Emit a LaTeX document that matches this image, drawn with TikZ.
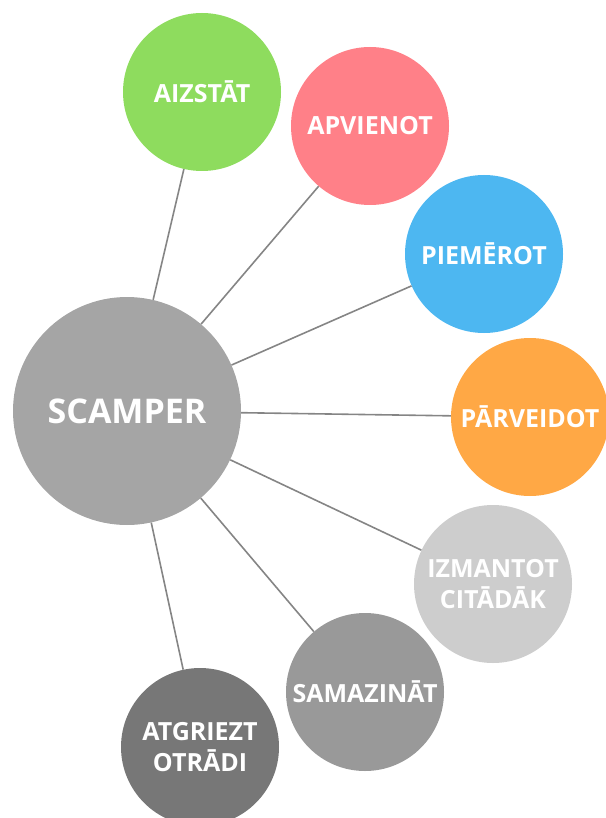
\documentclass[tikz,border=0pt]{standalone}
\usepackage{fontspec}
\setmainfont{Open Sans}
\usetikzlibrary{positioning}

\definecolor{hubgray}{HTML}{A5A5A5}
\definecolor{sgreen}{HTML}{8EDC5E}
\definecolor{cpink}{HTML}{FF8088}
\definecolor{ablue}{HTML}{4DB7F1}
\definecolor{morange}{HTML}{FFA845}
\definecolor{plight}{HTML}{CDCDCD}
\definecolor{emid}{HTML}{999999}
\definecolor{rdark}{HTML}{777777}
\definecolor{linkgray}{HTML}{858585}

\tikzset{
  idea/.style={circle, inner sep=0pt, minimum size=158pt, align=center,
    text=white, font=\bfseries\fontsize{25}{31}\selectfont},
  hub/.style={circle, inner sep=0pt, minimum size=228pt, fill=hubgray,
    text=white, font=\bfseries\fontsize{34}{40}\selectfont},
  link/.style={line width=1.6pt, color=linkgray}
}

\begin{document}
\begin{tikzpicture}[x=1pt, y=-1pt]
			%%%%% START %%%%%
			
			\useasboundingbox (0, 0) rectangle (605, 818);
			
			\node[hub] (scamper) at (127, 411) {SCAMPER};
			
			\node[idea, fill=sgreen] (aizstat) at (202, 92) {AIZSTĀT};
			\node[idea, fill=cpink] (apvienot) at (370, 126) {APVIENOT};
			\node[idea, fill=ablue] (piemerot) at (484, 254) {PIEMĒROT};
			\node[idea, fill=morange] (parveidot) at (530, 417) {PĀRVEIDOT};
			\node[idea, fill=plight] (izmantot) at (493, 584) {IZMANTOT\\CITĀDĀK};
			\node[idea, fill=emid] (samazinat) at (365, 692) {SAMAZINĀT};
			\node[idea, fill=rdark] (atgriezt) at (200, 747) {ATGRIEZT\\OTRĀDI};
			
			\draw[link] (scamper) -- (aizstat);
			\draw[link] (scamper) -- (apvienot);
			\draw[link] (scamper) -- (piemerot);
			\draw[link] (scamper) -- (parveidot);
			\draw[link] (scamper) -- (izmantot);
			\draw[link] (scamper) -- (samazinat);
			\draw[link] (scamper) -- (atgriezt);
			
			%%%%% END %%%%%
		\end{tikzpicture}
\end{document}
